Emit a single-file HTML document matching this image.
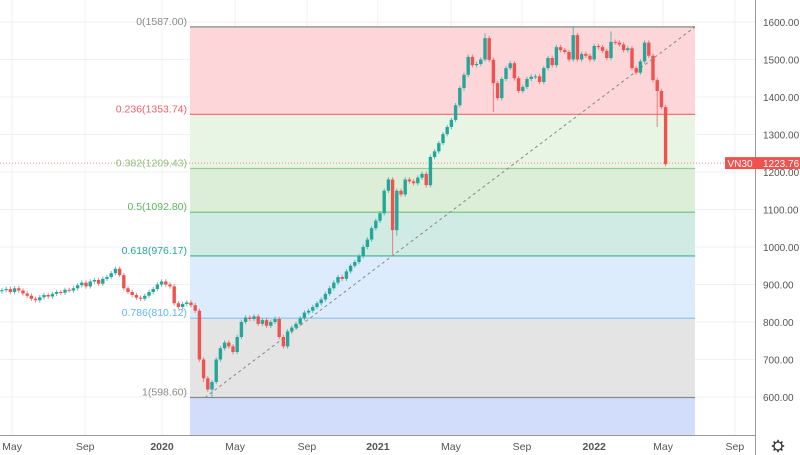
<!DOCTYPE html>
<html><head><meta charset="utf-8"><style>
html,body{margin:0;padding:0;background:#fff;}
svg{display:block;font-family:"Liberation Sans",sans-serif;}
</style></head><body>
<svg id="chart" width="800" height="455" viewBox="0 0 800 455">
<g id="grid"></g>
<g id="fib"></g>
<g id="candles"></g>
<g id="axes"></g>
</svg>
<script>
// ---- data ----
const closes = [885,888,880,890,884,876,870,862,858,866,872,868,875,880,878,886,884,890,898,905,895,908,912,902,915,920,930,942,925,890,880,872,865,862,870,880,888,900,908,
900,895,850,840,848,852,845,830,700,650,620,640,700,730,745,735,720,760,800,812,808,815,795,805,790,800,808,760,735,775,785,795,810,825,830,840,850,860,875,890,905,920,915,935,950,960,975,1000,1020,1050,1070,1090,1150,1180,1045,1150,1140,1180,1175,1170,1185,1195,1165,1240,1255,1277,1301,1320,1339,1378,1424,1459,1507,1485,1488,1500,1557,1499,1437,1397,1448,1477,1490,1450,1416,1427,1448,1454,1455,1440,1477,1504,1485,1533,1525,1520,1500,1565,1500,1515,1510,1500,1536,1533,1523,1504,1547,1545,1540,1525,1530,1477,1465,1495,1545,1510,1445,1416,1373,1221];
const firstOpen = 882;
const lowExtremes = {50:598, 93:980, 117:1360, 156:1320, 48:640, 94:1030};
const highExtremes = {136:1587, 115:1570, 145:1575};
const priceTicks = [1600,1500,1400,1300,1200,1100,1000,900,800,700,600];
const timeLabels = ["May","Sep","2020","May","Sep","2021","May","Sep","2022","May","Sep"];
const timeIdx = [-36.6,-19.2,-0.9,16.5,33.6,50.5,67.9,84.8,102,118.4,135.5];
const fibRatios = [0,0.236,0.382,0.5,0.618,0.786,1];
const fibHigh = 1587.00, fibLow = 598.60;
const lastPrice = 1223.76;

// ---- scales ----
const yOf = v => 22 + (1600 - v) * 0.375;
const step = 4.2, x0 = 2;
const xOf = i => x0 + (i + 39) * step;
const NS = "http://www.w3.org/2000/svg";
function mk(tag, attrs, parent){const e=document.createElementNS(NS,tag);for(const k in attrs)e.setAttribute(k,attrs[k]);parent.appendChild(e);return e;}
const grid=document.getElementById('grid'),fib=document.getElementById('fib'),cg=document.getElementById('candles'),ax=document.getElementById('axes');

priceTicks.forEach(v=>{const l=mk('line',{x1:0,x2:755,y1:yOf(v),y2:yOf(v),stroke:'#eef1f6','stroke-width':1},grid);

});
timeIdx.forEach(i=>{const l=mk('line',{x1:xOf(i),x2:xOf(i),y1:0,y2:435,stroke:'#eef1f6','stroke-width':1},grid);

});

const fill=['#fcd6d9','#e8f4e4','#dcedd8','#d0eae4','#ddecfc','#e4e4e4'];
const lineCol=['#8a8a8a','#f4747e','#9ccd8e','#71c171','#3fb28e','#86c3f5','#8a8a8a'];
const labCol=['#8a8a8a','#f0606a','#8cc47e','#5cb85c','#26a69a','#64b5f6','#8a8a8a'];
const fl=190, fr=695;
const lv = r => fibHigh - (fibHigh - fibLow) * r;
for(let k=0;k<fibRatios.length-1;k++){
 const r=mk('rect',{x:fl,y:yOf(lv(fibRatios[k])),width:fr-fl,height:yOf(lv(fibRatios[k+1]))-yOf(lv(fibRatios[k])),fill:fill[k]},fib);
 
 
}
const bz=mk('rect',{x:fl,y:yOf(fibLow),width:fr-fl,height:435-yOf(fibLow),fill:'#d2ddfc'},fib);


fibRatios.forEach((r,k)=>{
 const v=lv(r),y=yOf(v);
 const l=mk('line',{x1:fl,x2:fr,y1:y,y2:y,stroke:lineCol[k],'stroke-width':1.2},fib);
 
 
 const t=mk('text',{x:187,y:y-2,'text-anchor':'end','font-size':10.5,fill:labCol[k]},fib);
 t.textContent=r+'('+v.toFixed(2)+')';
 
 
});
const tl=mk('line',{x1:205,y1:yOf(fibLow),x2:fr,y2:yOf(fibHigh),stroke:'#888','stroke-width':1,'stroke-dasharray':'3,3'},fib);



const pl=mk('line',{x1:0,x2:755,y1:yOf(lastPrice),y2:yOf(lastPrice),stroke:'#f08a8f','stroke-width':1,'stroke-dasharray':'1,2'},cg);



let prev=firstOpen;
closes.forEach((c,j)=>{
 const i=j-39,o=prev;prev=c;
 const up=c>=o,col=up?'#26a69a':'#ef5350';
 const hi=highExtremes[j]!==undefined?highExtremes[j]:Math.max(o,c)+6;
 const lo=lowExtremes[j]!==undefined?lowExtremes[j]:Math.min(o,c)-6;
 const x=xOf(i);
 const w=mk('line',{x1:x,x2:x,y1:yOf(hi),y2:yOf(lo),stroke:col,'stroke-width':1,opacity:0.7},cg);
 
 
 const top=yOf(Math.max(o,c)),bh=Math.max(1,Math.abs(yOf(o)-yOf(c)));
 const b=mk('rect',{x:x-1.7,y:top,width:3.4,height:bh,fill:col},cg);
 
 
});

mk('rect',{x:755,y:0,width:45,height:455,fill:'#fff'},ax);
mk('rect',{x:0,y:435,width:800,height:20,fill:'#fff'},ax);
const sep=mk('line',{x1:755.5,x2:755.5,y1:0,y2:455,stroke:'#999','stroke-width':1},ax);


const bl=mk('line',{x1:0,x2:755,y1:435.5,y2:435.5,stroke:'#999','stroke-width':1},ax);


priceTicks.forEach(v=>{const t=mk('text',{x:763,y:yOf(v)+4,'font-size':10,fill:'#555'},ax);t.textContent=v.toFixed(2);

});
timeLabels.forEach((s,k)=>{const t=mk('text',{x:xOf(timeIdx[k]),y:450,'text-anchor':'middle','font-size':10.5,fill:'#555','font-weight':/^\d/.test(s)?'bold':'normal'},ax);t.textContent=s;

});
const yp=yOf(lastPrice);
const tag=mk('g',{},ax);


mk('rect',{x:725,y:yp-6,width:75,height:12,fill:'#ef5350'},tag);
const t1=mk('text',{x:740,y:yp+4,'text-anchor':'middle','font-size':10,fill:'#fff'},tag);t1.textContent='VN30';
const t2=mk('text',{x:763,y:yp+4,'font-size':10,fill:'#fff'},tag);t2.textContent=lastPrice.toFixed(2);
const g=mk('g',{transform:'translate(778,446)'},ax);


mk('circle',{cx:0,cy:0,r:4,fill:'none',stroke:'#333','stroke-width':1.3},g);
for(let a=0;a<8;a++){const r=a*Math.PI/4;mk('line',{x1:4*Math.cos(r),y1:4*Math.sin(r),x2:6.2*Math.cos(r),y2:6.2*Math.sin(r),stroke:'#333','stroke-width':1.6},g);}
</script>
</body></html>
